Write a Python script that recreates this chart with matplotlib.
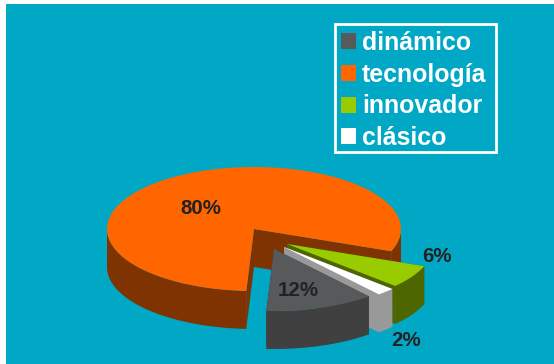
import numpy as np
import matplotlib
matplotlib.use("Agg")
import matplotlib.pyplot as plt
from matplotlib.patches import Polygon, Patch, Rectangle

labels = ["dinámico", "tecnología", "innovador", "clásico"]
values = [12, 80, 6, 2]
label_texts = ["12%", "80%", "6%", "2%"]

top_colors = ["#58595B", "#FF6600", "#99CC00", "#FFFFFF"]
side_colors = ["#404040", "#7F3300", "#4D6600", "#999999"]
bg_color = "#00A8C6"

# pie geometry in pixels
cx, cy = 254, 229
rx, ry = 147, 62
depth = 38
start_angle = -49.8
# explode offset of each slice
offsets = {"dinámico": (20, 20), "tecnología": (0, 0), "innovador": (33, 15), "clásico": (30, 18)}
text_pos = {"dinámico": (298, 290), "tecnología": (201, 209), "innovador": (437, 256), "clásico": (406, 340)}
draw_order = ["tecnología", "innovador", "clásico", "dinámico"]


def arc(x0, y0, a, b):
    t = np.radians(np.linspace(a, b, 200))
    return x0 + rx * np.cos(t), y0 - ry * np.sin(t)


def draw_slice(ax, x0, y0, a, b, top, side):
    # cut faces first
    for ang in (b, a):
        ex = x0 + rx * np.cos(np.radians(ang))
        ey = y0 - ry * np.sin(np.radians(ang))
        quad = [(x0, y0), (ex, ey), (ex, ey + depth), (x0, y0 + depth)]
        ax.add_patch(Polygon(quad, closed=True, fc=side, ec="none"))
    # outer wall, only the front part of the ellipse
    for lo, hi in ((-180, 0), (-540, -360)):
        u = max(b, lo)
        v = min(a, hi)
        if u < v:
            x, y = arc(x0, y0, u, v)
            pts = list(zip(x, y)) + list(zip(x[::-1], y[::-1] + depth))
            ax.add_patch(Polygon(pts, closed=True, fc=side, ec="none"))
    x, y = arc(x0, y0, a, b)
    pts = [(x0, y0)] + list(zip(x, y))
    ax.add_patch(Polygon(pts, closed=True, fc=top, ec="none"))


fig = plt.figure(figsize=(5.54, 3.64), dpi=100, facecolor="white")
ax = fig.add_axes([0, 0, 1, 1])
ax.set_xlim(0, 554)
ax.set_ylim(364, 0)
ax.axis("off")

# the slide background leaves a white strip at left and top
ax.add_patch(Rectangle((6, 4), 548, 360, fc=bg_color, ec="none"))

# slices go clockwise
angles = {}
a = start_angle
for name, val in zip(labels, values):
    angles[name] = (a, a - val * 3.6)
    a -= val * 3.6

for name in draw_order:
    i = labels.index(name)
    dx, dy = offsets[name]
    draw_slice(ax, cx + dx, cy + dy, angles[name][0], angles[name][1], top_colors[i], side_colors[i])

for name, txt in zip(labels, label_texts):
    ax.text(text_pos[name][0], text_pos[name][1], txt, ha="center", va="center",
            fontsize=14.8, fontweight="bold", family="Liberation Sans", color="#222222")

handles = [Patch(fc=c, ec="none", label=l) for c, l in zip(top_colors, labels)]
leg = ax.legend(handles=handles, loc="upper left", bbox_to_anchor=(334 / 554, 1 - 23.5 / 364),
                prop={"family": "Liberation Sans", "weight": "bold", "size": 17.9},
                labelcolor="white", frameon=False,
                handlelength=0.6, handleheight=0.6,
                handletextpad=0.22, labelspacing=0.31, borderpad=0.3, borderaxespad=0)

# legend box drawn by hand, the legend frame came out too tall
ax.add_patch(Rectangle((334.5, 24), 161, 128, fc="none", ec="white", lw=2))

fig.savefig("out.png", dpi=100, facecolor=fig.get_facecolor())
